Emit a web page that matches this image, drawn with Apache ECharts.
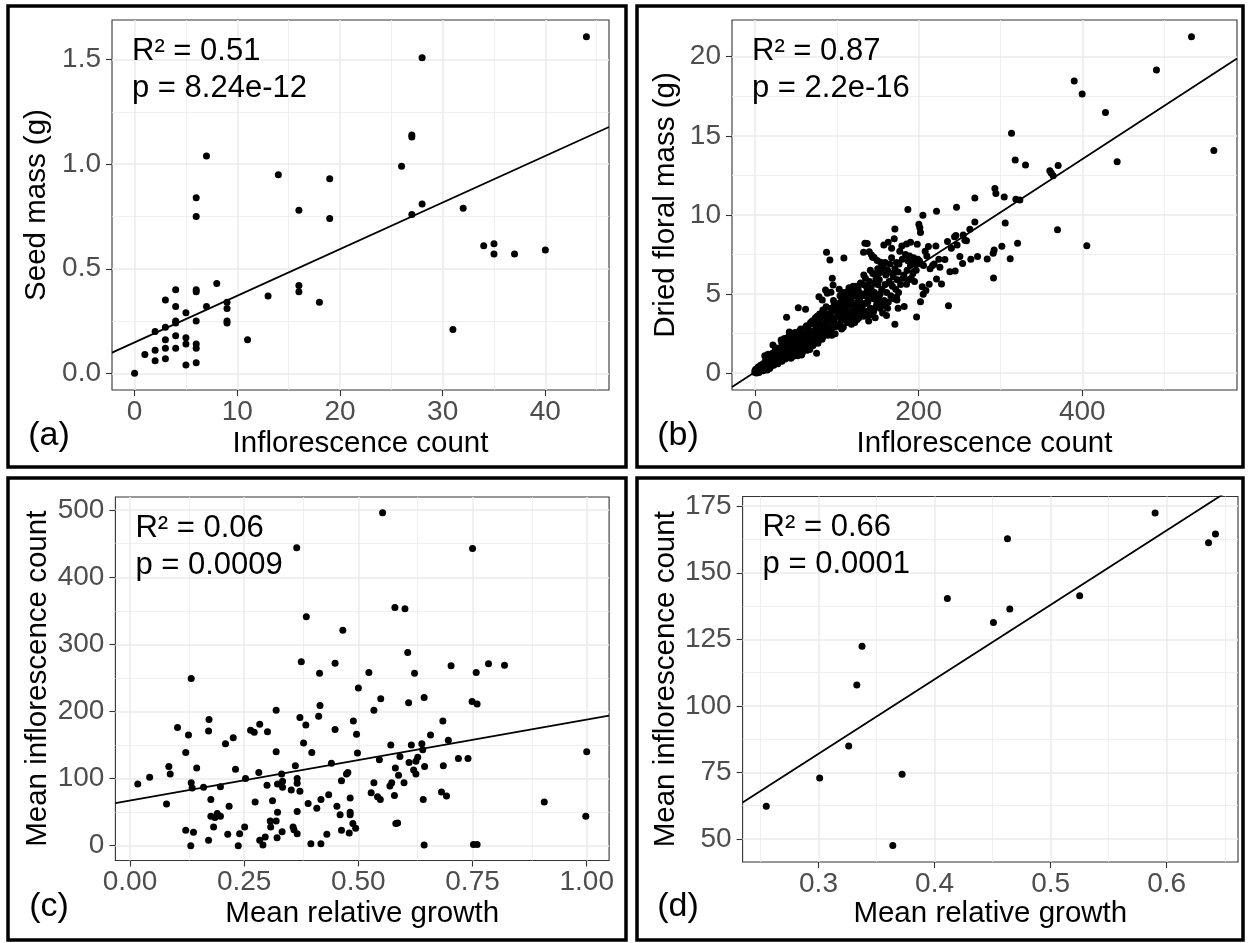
<!DOCTYPE html>
<html>
<head>
<meta charset="utf-8">
<script src="https://cdn.jsdelivr.net/npm/echarts@6/dist/echarts.min.js"></script>
<style>
  html, body { margin: 0; padding: 0; background: #ffffff; }
  #chart { width: 1248px; height: 943px; }
</style>
</head>
<body>
<div id="chart"></div>
<script>
// ---------- (a) seed mass vs inflorescence count ----------
const seedInflorescence = [0,1,2,2,2,3,3,3,3,3,4,4,4,4,4,4,5,5,5,5,6,6,6,6,6,6,6,6,7,7,8,9,9,9,9,11,13,14,16,16,16,18,19,19,44,28,27,27,26,28,27,32,34,35,35,37,40,31];
const seedMass = [0,0.09,0.11,0.06,0.2,0.35,0.22,0.16,0.12,0.07,0.40,0.32,0.25,0.24,0.18,0.12,0.29,0.17,0.14,0.04,0.84,0.75,0.40,0.39,0.25,0.14,0.12,0.05,1.04,0.32,0.43,0.34,0.31,0.25,0.24,0.16,0.37,0.95,0.78,0.42,0.39,0.34,0.93,0.74,1.61,1.51,1.14,1.13,0.99,0.81,0.76,0.79,0.61,0.62,0.57,0.57,0.59,0.21];
const seedFitX = [-2.2, 46.2];
const seedFitY = [0.099, 1.178];
const seedStats = ['R\u00B2 = 0.51', 'p = 8.24e-12'];
const seedXTicks = [0, 10, 20, 30, 40];
const seedXMinor = [5, 15, 25, 35, 45];
const seedYTicks = [0, 0.5, 1.0, 1.5];
const seedYMinor = [0.25, 0.75, 1.25];

// ---------- (b) dried floral mass vs inflorescence count ----------
const floralPoints = [
  [0,0.05],[1,0.1],[2,0.02],[3,0.15],[4,0.08],[5,0.2],[6,0.12],[7,0.3],[8,0.18],[9,0.25],[10,0.35],[2,0.2],[5,0.05],[8,0.4],[0,0.15],[3,0.3],[6,0.35],[10,0.15],[1,0.25],[4,0.4],[7,0.5],[9,0.55],
  [11,0.3],[12,0.5],[13,0.25],[14,0.6],[15,0.4],[16,0.75],[17,0.45],[18,0.3],[19,0.65],[20,0.85],[12,0.7],[14,0.35],[16,0.55],[18,0.9],[20,0.5],[11,0.55],[13,0.8],[15,0.2],[17,0.95],[19,0.4],[12,1.1],[16,1.2],
  [21,0.7],[22,1.05],[23,0.5],[24,1.3],[25,0.85],[26,1.6],[27,0.65],[28,1.15],[29,0.95],[30,1.4],[22,1.79],[24,0.75],[26,1.0],[28,0.6],[30,1.1],[21,1.25],[23,0.9],[25,1.5],[27,1.35],[29,0.8],
  [31,1.2],[32,0.8],[33,1.9],[34,1.0],[35,1.5],[36,2.2],[37,0.9],[38,1.3],[39,1.7],[40,1.1],[31,1.6],[33,0.75],[35,2.0],[37,1.45],[39,1.0],[32,2.1],[34,1.35],[36,0.95],[38,1.85],[40,1.55],
  [41,2.3],[42,1.2],[43,1.6],[44,0.95],[45,2.0],[46,1.4],[47,2.5],[48,1.1],[49,1.8],[50,2.2],[42,2.6],[44,1.75],[46,1.05],[48,2.05],[50,1.5],[41,1.45],[43,2.15],[45,1.25],[47,1.65],[49,1.3],[38.7,3.53],[48.9,2.58],
  [51,1.7],[52,2.4],[53,1.2],[54,2.0],[55,1.5],[56,2.8],[57,1.9],[58,1.3],[59,2.3],[60,1.65],[52,1.1],[54,2.65],[56,1.45],[58,2.5],[60,2.05],[53,4.14],[61.9,4.04],[55,2.2],[57,1.15],[59,1.8],
  [61,2.5],[62,1.6],[63,3.0],[64,2.1],[65,1.8],[66,2.7],[67,1.5],[68,3.2],[69,2.3],[70,1.9],[62,2.9],[64,1.45],[66,2.2],[68,2.6],[70,3.3],[61,2.0],[63,2.4],[65,2.85],[67,2.05],[69,1.7],
  [71,2.6],[72,3.1],[73,2.0],[74,3.5],[75,2.3],[76,2.9],[77,1.9],[78,3.3],[79,2.5],[80,3.0],[72,2.2],[74,2.75],[76,3.6],[78,2.1],[80,2.45],[75.4,1.26],[78.2,4.84],[71,1.75],[73,3.4],[77,2.65],[79,3.75],
  [81,2.8],[82,3.5],[83,2.3],[84,3.9],[85,3.1],[86,2.6],[87,4.2],[88,3.3],[89,2.4],[90,3.7],[82.3,4.63],[86.3,5.26],[87.5,7.64],[88.4,5.05],[82,2.15],[84,3.0],[86,3.8],[88,2.75],[90,2.9],[81,3.6],[83,4.0],[85,2.45],[89,3.45],
  [91,3.3],[92,2.7],[93,4.1],[94,3.5],[95,2.9],[96,4.6],[97,3.2],[98,2.5],[99,3.9],[100,4.3],[91.6,7.16],[94.5,6.0],[95.5,5.58],[92.9,5.11],[92,3.75],[94,2.4],[96,3.4],[98,4.0],[100,2.95],[93,2.6],[97,4.4],[99,3.05],
  [101,3.6],[102,4.4],[103,3.0],[104,4.9],[105,3.8],[106,2.8],[107,4.2],[108,3.4],[109,5.1],[110,3.9],[108.7,7.28],[102,3.1],[104,4.0],[106,4.7],[108,2.9],[110,4.5],[103,5.3],[105,3.3],[107,3.7],[109,4.6],
  [111,3.5],[112,4.8],[113,3.2],[114,4.3],[115,5.4],[116,3.8],[117,4.6],[118,3.1],[119,5.0],[120,4.1],[112,3.95],[114,5.2],[116,4.4],[118,3.55],[120,5.5],[111,4.5],[113,5.0],[115,3.6],[117,3.3],[119,4.3],
  [121,3.6],[122,4.9],[123,4.2],[124,5.5],[125,3.4],[126,4.6],[127,5.1],[128,3.9],[129,5.7],[130,4.4],[122,3.2],[124,4.0],[126,5.3],[128,4.7],[130,3.7],[121,5.2],[123,3.8],[125,4.5],[127,3.5],[129,4.9],
  [131,4.2],[132,5.6],[133,3.6],[134,4.9],[135,6.0],[136,3.9],[137,5.2],[138,4.5],[139,3.3],[140,5.8],[132.7,7.64],[137.2,8.19],[134.4,8.21],[139.7,7.68],[131,5.0],[133,6.2],[135,4.4],[136,5.5],[138,3.7],[139,4.8],
  [141,4.1],[142,5.4],[143,3.7],[144,6.3],[145,4.7],[146,5.1],[147,3.5],[148,6.0],[149,4.4],[150,5.6],[142.5,7.47],[145.7,7.31],[149.4,7.12],[143.7,7.33],[141,6.5],[143,4.9],[145,3.9],[147,5.7],[148,4.2],[150,6.6],[144,5.0],
  [151,4.8],[152,5.9],[153,4.1],[154,6.4],[155,5.3],[156,3.8],[157,6.7],[158,4.6],[159,5.6],[160,6.2],[153.5,7.01],[157.5,8.11],[162.8,8.27],[160.8,3.64],[151,6.3],[153,5.0],[155,6.9],[157,4.3],[159,7.0],[152,4.4],
  [161,5.1],[162,6.5],[163,4.5],[164,5.8],[165,6.9],[166,4.9],[167,7.3],[168,5.5],[169,6.1],[170,4.7],[171,6.6],[172,5.3],[173,7.0],[174,5.9],[175,6.4],[167,7.9],[170.2,8.49],[171,9.12],[171,3.1],[173,4.8],[173.5,4.63],[175,4.1],[175.5,5.1],[162,4.1],[168,6.3],
  [176,6.9],[178,5.6],[179.5,8.04],[180,7.2],[182,6.2],[182.4,4.21],[184,7.5],[185.2,8.17],[185.2,5.62],[186,6.5],[187,7.1],[188,5.9],[189,7.4],[190.1,8.27],[190,6.8],[192,7.0],[193,6.3],[194,7.3],[195,5.8],[196,6.9],[197.5,3.56],[198.3,8.15],[199,7.2],[186.9,10.34],[177,7.7],[181,6.0],[191,6.0],[197,6.5],
  [200.3,9.41],[201.5,9.2],[202.3,8.9],[205.2,9.98],[201,7.1],[203,6.9],[206,6.8],[204.4,5.47],[208.9,5.22],[205.6,4.99],[202.3,4.51],[212.9,5.62],[210,7.4],[214,6.6],[217,6.8],[221.1,8.04],[221.9,10.23],[221.9,5.96],[224.7,7.2],[226,6.7],[228,5.64],[219,6.9],[212,8.0],[208,7.7],
  [232.1,7.18],[235.3,8.32],[236.5,4.27],[238.2,6.42],[243.9,8.63],[244.7,6.46],[245.5,8.7],[246.3,10.49],[240,7.9],[247,8.1],
  [533.4,21.26],[490.6,19.16],[390.1,18.46],[399.8,17.64],[428.3,16.48],[313.5,15.16],[560.7,14.08],[318,13.47],[330.6,13.16],[442.6,13.37],[360.3,12.8],[370.5,13.12],[364.4,12.48],[362,12.65],
  [293.2,11.68],[294.4,11.35],[304.6,11.14],[268.7,11.07],[318.8,11.0],[323.7,10.95],[268.7,9.56],[305.8,9.49],[262.6,9.1],[254.5,8.74],[256.5,8.4],[258.5,8.37],[369.7,9.07],[405.5,8.06],
  [320.9,8.21],[301.7,8.02],[292.3,7.79],[291.1,7.58],[311.9,7.24],[283.8,7.22],[272,7.37],[263.8,7.2],[253.7,6.93],[250.4,7.37],[291.5,6.02]
];
const floralFitX = [-28, 589];
const floralFitY = [-0.877, 19.885];
const floralStats = ['R\u00B2 = 0.87', 'p = 2.2e-16'];
const floralXTicks = [0, 200, 400];
const floralXMinor = [100, 300, 500];
const floralYTicks = [0, 5, 10, 15, 20];
const floralYMinor = [2.5, 7.5, 12.5, 17.5];

// ---------- (c) mean inflorescence count vs mean relative growth (all plants) ----------
const growthPoints = [
  [0.017,92],[0.043,102],[0.080,62],[0.085,118],[0.088,107],[0.104,176],[0.122,139],[0.122,23],[0.128,165],[0.134,249],
  [0.134,94],[0.136,86],[0.139,20],[0.133,0],[0.146,116],[0.161,87],[0.172,171],[0.173,188],[0.177,69],[0.177,44],
  [0.183,28],[0.186,42],[0.191,48],[0.198,44],[0.198,88],[0.172,8],[0.209,152],[0.214,17],[0.217,59],[0.226,161],
  [0.231,114],[0.237,0],[0.240,18],[0.251,28],[0.253,100],[0.264,172],[0.272,169],[0.274,65],[0.282,109],[0.284,181],
  [0.284,8],[0.291,1],[0.296,13],[0.300,90],[0.301,170],[0.307,37],[0.308,28],[0.312,67],[0.320,202],[0.320,140],
  [0.320,37],[0.322,12],[0.323,92],[0.323,50],[0.333,21],[0.332,107],[0.334,96],[0.334,87],[0.353,83],[0.357,28],
  [0.359,24],[0.362,119],[0.365,444],[0.366,100],[0.366,93],[0.366,51],[0.366,18],[0.372,81],[0.372,191],[0.375,274],
  [0.380,153],[0.385,180],[0.386,341],[0.390,63],[0.396,3],[0.398,139],[0.409,56],[0.413,193],[0.416,209],[0.415,257],
  [0.418,69],[0.418,3],[0.431,17],[0.435,76],[0.441,123],[0.449,173],[0.449,272],[0.453,59],[0.460,46],[0.463,23],
  [0.463,97],[0.466,321],[0.474,107],[0.477,109],[0.480,19],[0.482,50],[0.482,71],[0.482,46],[0.488,33],
  [0.489,186],[0.496,166],[0.500,235],[0.498,138],[0.494,26],[0.523,258],[0.534,202],[0.549,219],[0.553,496],[0.546,128],
  [0.571,150],[0.580,355],[0.602,353],[0.608,288],[0.610,213],[0.623,257],[0.644,221],[0.616,150],[0.639,152],[0.641,143],
  [0.658,165],[0.685,186],[0.697,157],[0.703,268],[0.719,130],[0.740,130],[0.750,443],[0.758,258],[0.749,215],[0.760,211],
  [0.785,271],[0.820,269],[0.907,65],[1.000,140],[0.998,44],[0.752,2],[0.760,2],[0.644,1],[0.582,33],[0.586,34],
  [0.642,69],[0.682,80],[0.693,74],[0.686,119],[0.645,118],[0.630,132],[0.626,126],[0.621,113],[0.626,107],[0.611,124],
  [0.591,133],[0.581,116],[0.588,105],[0.600,94],[0.573,94],[0.569,89],[0.579,75],[0.534,94],[0.528,79],[0.542,73],[0.548,69]
];
const growthFitX = [-0.032, 1.049];
const growthFitY = [63.5, 193.7];
const growthStats = ['R\u00B2 = 0.06', 'p = 0.0009'];
const growthXTicks = [0, 0.25, 0.5, 0.75, 1.0];
const growthXMinor = [0.125, 0.375, 0.625, 0.875];
const growthYTicks = [0, 100, 200, 300, 400, 500];
const growthYMinor = [50, 150, 250, 350, 450];

// ---------- (d) mean inflorescence count vs mean relative growth (population means) ----------
const meanGrowth = [0.255,0.301,0.326,0.333,0.3375,0.364,0.372,0.411,0.4507,0.4628,0.4648,0.525,0.590,0.636,0.642];
const meanCount = [62.3,72.9,84.9,107.8,122.4,47.6,74.3,140.3,131.3,162.8,136.4,141.4,172.4,161.3,164.6];
const meanFitX = [0.2346, 0.6614];
const meanFitY = [63.7, 183.1];
const meanStats = ['R\u00B2 = 0.66', 'p = 0.0001'];
const meanXTicks = [0.3, 0.4, 0.5, 0.6];
const meanXMinor = [0.25, 0.35, 0.45, 0.55, 0.65];
const meanYTicks = [50, 75, 100, 125, 150, 175];
const meanYMinor = [62.5, 87.5, 112.5, 137.5, 162.5];

// ---------- shared styling ----------
const FONT = "'Liberation Sans', Arial, Helvetica, sans-serif";
const TICK_SIZE = 28;
const TITLE_SIZE = 29.5;
const STAT_SIZE = 31;
const TAG_SIZE = 34;
const DOT_SIZE = 7;
const GRID_MAJOR = { color: '#EBEBEB', width: 1.5, type: 'solid' };
const GRID_MINOR = { color: '#EBEBEB', width: 0.8, type: 'solid' };

const zip = (xs, ys) => xs.map((x, i) => [x, ys[i]]);

function gridLines(xMajor, xMinor, yMajor, yMinor) {
  const d = [];
  xMinor.forEach(v => d.push({ xAxis: v, lineStyle: GRID_MINOR }));
  yMinor.forEach(v => d.push({ yAxis: v, lineStyle: GRID_MINOR }));
  xMajor.forEach(v => d.push({ xAxis: v, lineStyle: GRID_MAJOR }));
  yMajor.forEach(v => d.push({ yAxis: v, lineStyle: GRID_MAJOR }));
  return d;
}

function axis(gridIndex, range, ticks, fmt, name, gap, isY) {
  return {
    gridIndex,
    type: 'value',
    min: range[0],
    max: range[1],
    name,
    nameLocation: 'middle',
    nameGap: gap,
    nameTextStyle: { fontFamily: FONT, fontSize: TITLE_SIZE, color: '#000000' },
    axisLine: { show: false, onZero: false },
    splitLine: { show: false },
    minorSplitLine: { show: false },
    axisTick: {
      show: true, length: 6, inside: false, customValues: ticks,
      lineStyle: { color: '#333333', width: 1.1 }
    },
    axisLabel: {
      customValues: ticks,
      formatter: fmt,
      fontFamily: FONT,
      fontSize: TICK_SIZE,
      color: '#4D4D4D',
      margin: isY ? 11 : 8
    }
  };
}

const panels = [
  {
    rect: [112, 20, 497, 370],
    xRange: [-2.2, 46.2], yRange: [-0.08, 1.69],
    xTicks: seedXTicks, xMinor: seedXMinor, yTicks: seedYTicks, yMinor: seedYMinor,
    xFmt: v => String(v), yFmt: v => v.toFixed(1),
    xName: 'Inflorescence count', yName: 'Seed mass (g)', xGap: 39, yGap: 60,
    points: zip(seedInflorescence, seedMass), fit: zip(seedFitX, seedFitY),
    stats: seedStats, tag: '(a)', tagPos: [49, 436], frame: [8, 6, 618, 461]
  },
  {
    rect: [732, 20, 505, 370],
    xRange: [-28, 589], yRange: [-1.06, 22.32],
    xTicks: floralXTicks, xMinor: floralXMinor, yTicks: floralYTicks, yMinor: floralYMinor,
    xFmt: v => String(v), yFmt: v => String(v),
    xName: 'Inflorescence count', yName: 'Dried floral mass (g)', xGap: 39, yGap: 51,
    points: floralPoints, fit: zip(floralFitX, floralFitY),
    stats: floralStats, tag: '(b)', tagPos: [678, 436], frame: [637, 6, 606, 461]
  },
  {
    rect: [115.4, 497, 493.7, 363.5],
    xRange: [-0.032, 1.049], yRange: [-22, 519.6],
    xTicks: growthXTicks, xMinor: growthXMinor, yTicks: growthYTicks, yMinor: growthYMinor,
    xFmt: v => v.toFixed(2), yFmt: v => String(v),
    xName: 'Mean relative growth', yName: 'Mean inflorescence count', xGap: 38, yGap: 63,
    points: growthPoints, fit: zip(growthFitX, growthFitY),
    stats: growthStats, tag: '(c)', tagPos: [49, 907], frame: [8, 478, 618, 462]
  },
  {
    rect: [742.6, 496.5, 495.4, 365.5],
    xRange: [0.2346, 0.6614], yRange: [41.36, 178.64],
    xTicks: meanXTicks, xMinor: meanXMinor, yTicks: meanYTicks, yMinor: meanYMinor,
    xFmt: v => v.toFixed(1), yFmt: v => String(v),
    xName: 'Mean relative growth', yName: 'Mean inflorescence count', xGap: 37, yGap: 61,
    points: zip(meanGrowth, meanCount), fit: zip(meanFitX, meanFitY),
    stats: meanStats, tag: '(d)', tagPos: [678, 907], frame: [637, 478, 606, 462]
  }
];

const option = {
  animation: false,
  backgroundColor: '#ffffff',
  grid: [], xAxis: [], yAxis: [], series: [], graphic: []
};

panels.forEach((p, i) => {
  option.grid.push({
    left: p.rect[0], top: p.rect[1], width: p.rect[2], height: p.rect[3],
    show: true, backgroundColor: '#ffffff', borderColor: '#333333', borderWidth: 1.1,
    containLabel: false
  });
  option.xAxis.push(axis(i, p.xRange, p.xTicks, p.xFmt, p.xName, p.xGap, false));
  option.yAxis.push(axis(i, p.yRange, p.yTicks, p.yFmt, p.yName, p.yGap, true));

  option.series.push({
    type: 'scatter',
    xAxisIndex: i, yAxisIndex: i,
    data: p.points,
    symbol: 'circle',
    symbolSize: DOT_SIZE,
    itemStyle: { color: '#000000', opacity: 1 },
    silent: true,
    z: 2,
    markLine: {
      silent: true, animation: false, z: 1,
      symbol: ['none', 'none'],
      label: { show: false },
      emphasis: { disabled: true },
      data: gridLines(p.xTicks, p.xMinor, p.yTicks, p.yMinor)
    }
  });
  option.series.push({
    type: 'line',
    xAxisIndex: i, yAxisIndex: i,
    data: p.fit,
    showSymbol: false,
    symbol: 'none',
    clip: true,
    silent: true,
    z: 3,
    lineStyle: { color: '#000000', width: 1.8 }
  });

  const sx = p.rect[0] + 20;
  const sy = p.rect[1] + 31;
  p.stats.forEach((t, k) => {
    option.graphic.push({
      type: 'text', z: 10, silent: true,
      style: {
        text: t, x: sx, y: sy + k * 37,
        font: STAT_SIZE + 'px ' + FONT, fill: '#000000',
        textAlign: 'left', textVerticalAlign: 'middle', align: 'left', verticalAlign: 'middle'
      }
    });
  });
  option.graphic.push({
    type: 'text', z: 10, silent: true,
    style: {
      text: p.tag, x: p.tagPos[0], y: p.tagPos[1],
      font: TAG_SIZE + 'px ' + FONT, fill: '#000000',
      textAlign: 'center', textVerticalAlign: 'middle', align: 'center', verticalAlign: 'middle'
    }
  });
  option.graphic.push({
    type: 'rect', z: 10, silent: true,
    shape: { x: p.frame[0], y: p.frame[1], width: p.frame[2], height: p.frame[3] },
    style: { fill: 'none', stroke: '#000000', lineWidth: 3.5 }
  });
});

const chart = echarts.init(document.getElementById('chart'), null, { renderer: 'canvas' });
chart.setOption(option);
</script>
</body>
</html>
